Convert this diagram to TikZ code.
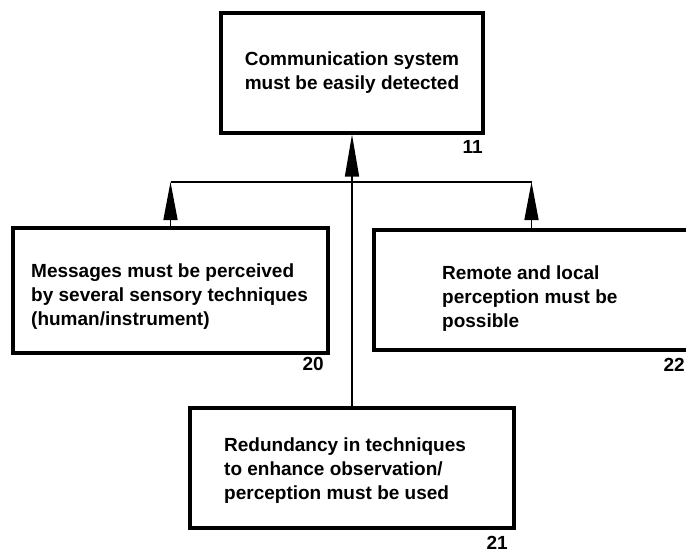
\documentclass[tikz,border=0pt]{standalone}
\usepackage{fontspec}
\setmainfont{Liberation Sans}
\usetikzlibrary{arrows.meta}
\begin{document}
\begin{tikzpicture}[x=1pt,y=-1pt,
  box/.style={draw=black,line width=3.2pt,fill=white,rectangle,inner sep=0pt},
  txt/.style={font=\fontsize{19}{24}\selectfont\bfseries,align=left,inner sep=0pt},
  num/.style={font=\fontsize{19}{24}\selectfont\bfseries,inner sep=0pt},
  link/.style={draw=black,line width=1.5pt},
  uparrow/.style={link,-{Triangle[length=38pt,width=14pt]}}]
  \useasboundingbox (0,0) rectangle (686,554);
  \clip (0,0) rectangle (686,554);

  % goal boxes
  \node[box,minimum width=262pt,minimum height=120pt] (b11) at (352,73) {};
  \node[box,minimum width=315pt,minimum height=125pt] (b20) at (170.5,290.5) {};
  \node[box,minimum width=315pt,minimum height=120pt] (b22) at (531.5,290) {};
  \node[box,minimum width=324pt,minimum height=120pt] (b21) at (352,468) {};

  % box texts
  \node[txt,align=center] (t11) at (352,73) {Communication system\\must be easily detected};
  \node[txt,anchor=west] (t20) at (31,297) {Messages must be perceived\\by several sensory techniques\\(human/instrument)};
  \node[txt,anchor=west] (t22) at (442,299) {Remote and local\\perception must be\\possible};
  \node[txt,anchor=west] (t21) at (224,471) {Redundancy in techniques\\to enhance observation/\\perception must be used};

  % box numbers
  \node[num,anchor=east] (n11) at (483,147) {11};
  \node[num,anchor=east] (n20) at (324,364) {20};
  \node[num,anchor=east] (n22) at (685,365) {22};
  \node[num,anchor=east] (n21) at (508,543) {21};

  % connectors
  \coordinate (bus) at (0,182);
  \draw[link] (b20.north |- bus) -- (b22.north |- bus);
  \draw[uparrow] (b20.north) -- (b20.north |- bus);
  \draw[uparrow] (b22.north) -- (b22.north |- bus);
  \draw[link,-{Triangle[length=42pt,width=14pt]}] (b21.north) -- (b11.south);
\end{tikzpicture}
\end{document}
